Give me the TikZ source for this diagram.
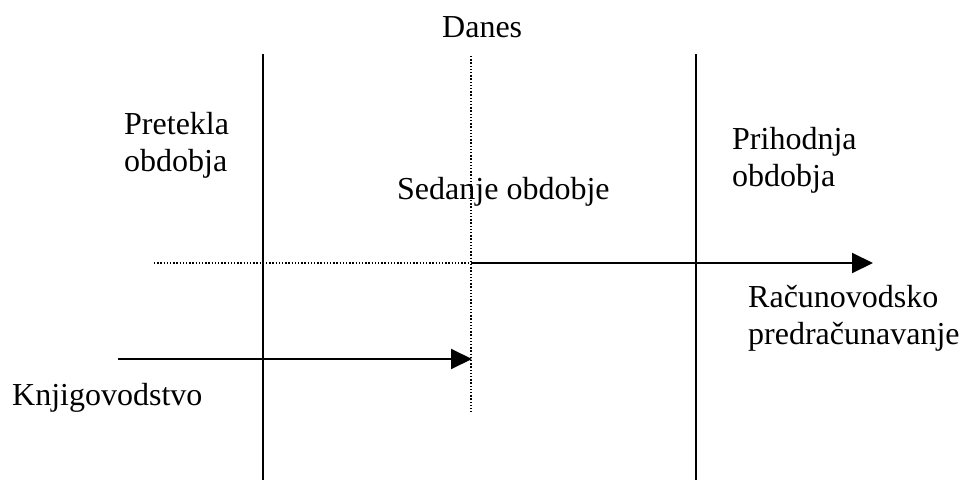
\documentclass[tikz,border=0pt]{standalone}
\usepackage{fontspec}
\setmainfont{Liberation Serif}
\usetikzlibrary{arrows.meta}

\begin{document}
\begin{tikzpicture}[
    x=1pt, y=-1pt,
    lbl/.style={anchor=base west, inner sep=0pt, align=left,
                font=\fontsize{32}{36.5}\selectfont},
    axis/.style={line width=2pt},
    dots/.style={line width=1.3pt, dash pattern=on 1.3pt off 1.9pt},
    tip/.style={-{Triangle[length=21pt,width=20pt]}}
]
\useasboundingbox (0,0) rectangle (962,480);

% labels (multi-line ones sit on their last line)
\node[lbl] (danes) at (442,37) {Danes};
\node[lbl] (past) at (124,171) {Pretekla\\obdobja};
\node[lbl] (now) at (397,199) {Sedanje obdobje};
\node[lbl] (future) at (732,186) {Prihodnja\\obdobja};
\node[lbl] (budget) at (748,344) {Ra\v{c}unovodsko\\predra\v{c}unavanje};
\node[lbl] (books) at (12,405) {Knjigovodstvo};

% time boundaries
\coordinate (pastTop) at (263,54);
\coordinate (pastBot) at (263,480);
\coordinate (nowTop) at (471,56);
\coordinate (nowBot) at (471,412);
\coordinate (futTop) at (696,54);
\coordinate (futBot) at (696,480);
\draw[axis] (pastTop) -- (pastBot);
\draw[axis] (futTop) -- (futBot);
\draw[dots] (nowTop) -- (nowBot);

% arrows
\coordinate (planStart) at (154,263);
\coordinate (planMid) at (471,263);
\coordinate (planEnd) at (873,263);
\draw[dots] (planStart) -- (planMid);
\draw[axis, tip] (planMid) -- (planEnd);

\coordinate (bookStart) at (118,359);
\coordinate (bookEnd) at (472,359);
\draw[axis, tip] (bookStart) -- (bookEnd);
\end{tikzpicture}
\end{document}
